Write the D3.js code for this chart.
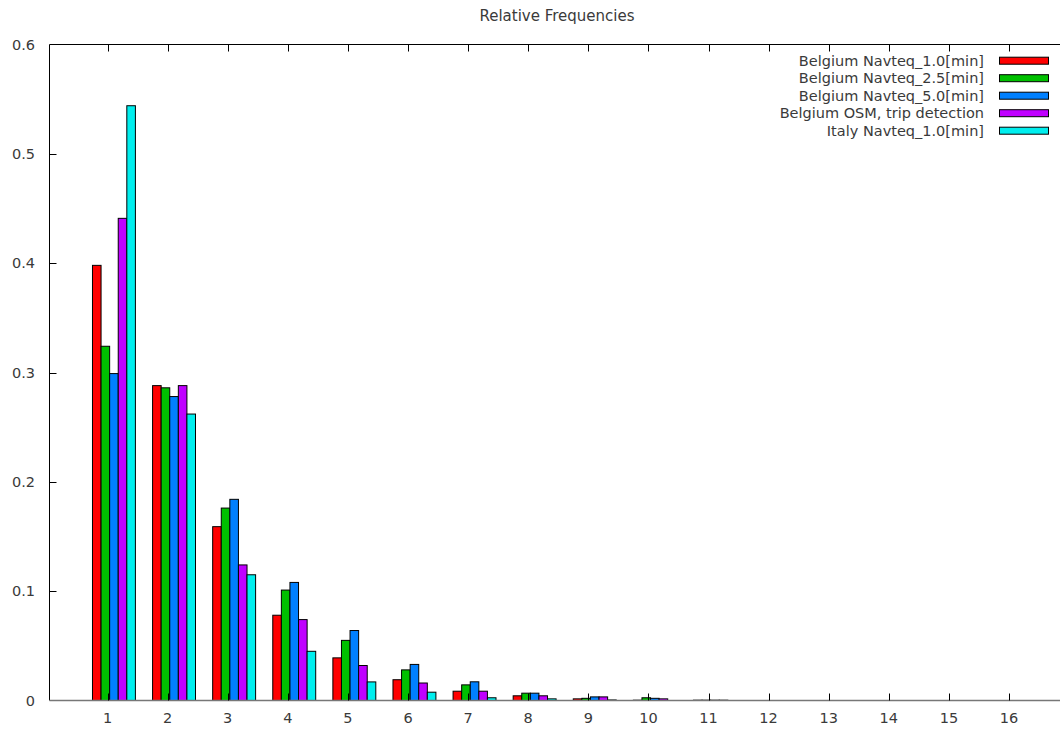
<!DOCTYPE html>
<html lang="en">
<head>
    <meta charset="UTF-8">
    <title>Relative Frequencies</title>
    <script src="https://d3js.org/d3.v7.min.js"></script>
    <style>
        body, html {
            margin: 0;
            background-color: #fff;
            overflow: hidden;
        }
        svg text {
            font-family: 'DejaVu Sans', sans-serif;
            fill: #3a3a3a;
        }
    </style>
</head>
<body>
<svg id="chart" width="1060" height="729"></svg>

<script>
    // data
    const categories = [1, 2, 3, 4, 5, 6, 7, 8, 9, 10, 11, 12, 13, 14, 15, 16];
    const seriesNames = [
        'Belgium Navteq_1.0[min]',
        'Belgium Navteq_2.5[min]',
        'Belgium Navteq_5.0[min]',
        'Belgium OSM, trip detection',
        'Italy Navteq_1.0[min]'
    ];
    const belgium10 = [0.398, 0.288, 0.159, 0.078, 0.039, 0.019, 0.0085, 0.0043, 0.0015, 0.0003, 0.0003];
    const belgium25 = [0.324, 0.286, 0.176, 0.101, 0.055, 0.028, 0.0143, 0.0067, 0.002, 0.0025, 0.0003];
    const belgium50 = [0.299, 0.278, 0.184, 0.108, 0.064, 0.033, 0.0171, 0.0067, 0.0033, 0.002, 0.0003];
    const belgiumOSM = [0.441, 0.288, 0.124, 0.074, 0.032, 0.016, 0.0085, 0.0043, 0.0033, 0.0015, 0.0003];
    const italy10 = [0.544, 0.262, 0.115, 0.045, 0.017, 0.0076, 0.0025, 0.0015, 0.0005, 0, 0];
    const yTicks = [0, 0.1, 0.2, 0.3, 0.4, 0.5, 0.6];
    const colors = ['#ff0000', '#00c000', '#0080ff', '#c000ff', '#00eeee'];

    const series = [belgium10, belgium25, belgium50, belgiumOSM, italy10];

    const svg = d3.select('#chart');
    const plotL = 49.5, plotT = 44.5, plotR = 1062, plotB = 700.5;

    const x = d3.scaleLinear().domain([1, 16]).range([107.5, 1009]);
    const y = d3.scaleLinear().domain([0, 0.6]).range([plotB, plotT]);
    const boxW = 1 / 7;          // 5 bars + gap of 2
    const start = -0.25;         // left edge of first bar relative to the tick

    // title
    svg.append('text')
        .attr('x', 557).attr('y', 21)
        .attr('text-anchor', 'middle')
        .style('font-size', '15px')
        .text('Relative Frequencies');

    // bars
    series.forEach((vals, j) => {
        svg.append('g').selectAll('rect')
            .data(vals)
            .join('rect')
            .attr('x', (d, i) => x(categories[i] + start + j * boxW))
            .attr('width', x(1 + boxW) - x(1))
            .attr('y', d => y(d))
            .attr('height', d => y(0) - y(d))
            .attr('fill', colors[j])
            .attr('stroke', '#000')
            .attr('stroke-width', 1);
    });

    // border
    svg.append('path')
        .attr('d', `M${plotR},${plotT}H${plotL}V${plotB}`)
        .attr('fill', 'none')
        .attr('stroke', '#000')
        .attr('stroke-width', 1);
    svg.append('line')
        .attr('x1', plotL).attr('x2', plotR)
        .attr('y1', plotB).attr('y2', plotB)
        .attr('stroke', '#777')
        .attr('stroke-width', 1.5);

    // x ticks (inward, both top and bottom)
    const xt = svg.append('g');
    categories.forEach(c => {
        const px = Math.round(x(c)) + 0.5;
        xt.append('line').attr('x1', px).attr('x2', px)
            .attr('y1', plotB).attr('y2', plotB - 7).attr('stroke', '#000');
        xt.append('line').attr('x1', px).attr('x2', px)
            .attr('y1', plotT).attr('y2', plotT + 7).attr('stroke', '#000');
        xt.append('text')
            .attr('x', x(c)).attr('y', 723)
            .attr('text-anchor', 'middle')
            .style('font-size', '14.5px')
            .text(c);
    });

    // y ticks
    const yt = svg.append('g');
    yTicks.forEach(v => {
        const py = Math.round(y(v)) + 0.5;
        if (v > 0 && v < 0.6) {
            yt.append('line').attr('x1', plotL).attr('x2', plotL + 7)
                .attr('y1', py).attr('y2', py).attr('stroke', '#000');
        }
        yt.append('text')
            .attr('x', 35).attr('y', y(v) + 5)
            .attr('text-anchor', 'end')
            .style('font-size', '14.5px')
            .text(v);
    });

    // legend
    const legend = svg.append('g');
    seriesNames.forEach((name, j) => {
        const cy = 60.7 + j * 17.5;
        legend.append('text')
            .attr('x', 984).attr('y', cy + 5)
            .attr('text-anchor', 'end')
            .style('font-size', '14.5px')
            .text(name);
        legend.append('rect')
            .attr('x', 999.5).attr('y', cy - 3.5)
            .attr('width', 49).attr('height', 7)
            .attr('fill', colors[j])
            .attr('stroke', '#000');
    });
</script>
</body>
</html>
